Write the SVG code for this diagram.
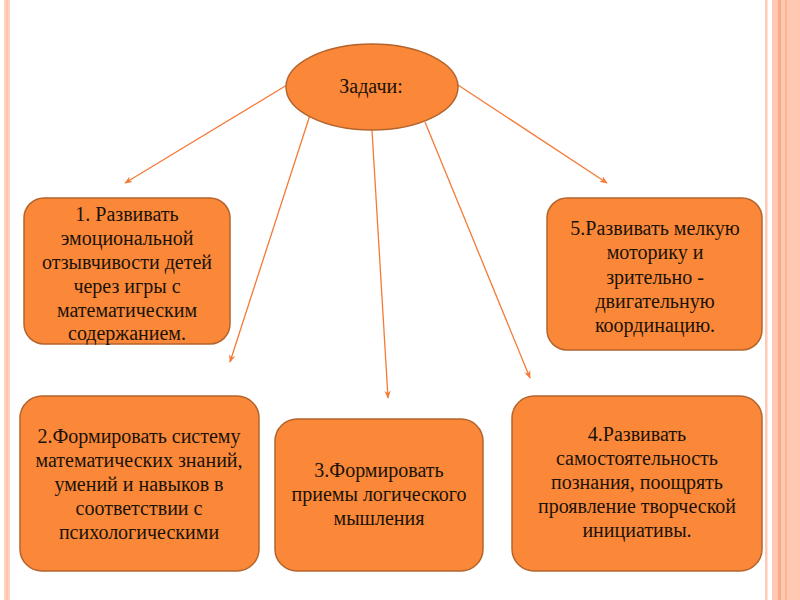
<svg xmlns="http://www.w3.org/2000/svg" width="800" height="600" viewBox="0 0 800 600">
<style>
.node{fill:#FA8838;stroke:#B4642C;stroke-width:1.5}
.t{font-family:"Liberation Serif","Times New Roman",serif;font-size:20px;fill:#1a1208;text-anchor:middle}
.c{stroke:#F47A36;stroke-width:1.3;fill:none;marker-end:url(#ah)}
</style>
<defs>
<marker id="ah" viewBox="0 0 10 10" refX="9" refY="5" markerWidth="8" markerHeight="8" markerUnits="userSpaceOnUse" orient="auto">
<path d="M0,1 L10,5 L0,9 L3,5 Z" fill="#F47A36"/>
</marker>
</defs>
<rect width="800" height="600" fill="#fff"/>
<g id="borders">
<rect x="4" y="0" width="6" height="600" fill="#FFD3C4"/>
<rect x="6" y="0" width="2" height="600" fill="#FFC4AE"/>
<rect x="765" y="0" width="2.5" height="600" fill="#FFC9B5"/>
<rect x="772" y="0" width="28" height="600" fill="#FFC8B3"/>
<rect x="778" y="0" width="3" height="600" fill="#F9A984"/>
<rect x="785" y="0" width="2" height="600" fill="#FBB697"/>
</g>
<g id="connectors">
<line class="c" x1="287" y1="85" x2="125" y2="183"/>
<line class="c" x1="310" y1="115" x2="230" y2="362"/>
<line class="c" x1="372" y1="130" x2="388" y2="398"/>
<line class="c" x1="425" y1="122" x2="530" y2="378"/>
<line class="c" x1="458" y1="85" x2="607" y2="183"/>
</g>
<g id="root">
<ellipse class="node" cx="372" cy="87" rx="86" ry="43"/>
<text class="t" x="371" y="93">Задачи:</text>
</g>
<g id="n1">
<rect class="node" x="24" y="198" width="206" height="146" rx="20"/>
<text class="t" x="127" y="221">1. Развивать</text>
<text class="t" x="127" y="245">эмоциональной</text>
<text class="t" x="127" y="269">отзывчивости детей</text>
<text class="t" x="127" y="293">через игры с</text>
<text class="t" x="127" y="317">математическим</text>
<text class="t" x="127" y="340">содержанием.</text>
</g>
<g id="n5">
<rect class="node" x="547" y="198" width="215" height="152" rx="20"/>
<text class="t" x="655" y="235">5.Развивать мелкую</text>
<text class="t" x="655" y="259">моторику и</text>
<text class="t" x="655" y="284">зрительно -</text>
<text class="t" x="655" y="308">двигательную</text>
<text class="t" x="655" y="332">координацию.</text>
</g>
<g id="n2">
<rect class="node" x="20" y="396" width="239" height="175" rx="22"/>
<text class="t" x="139" y="443">2.Формировать систему</text>
<text class="t" x="139" y="467">математических знаний,</text>
<text class="t" x="139" y="491">умений и навыков в</text>
<text class="t" x="139" y="515">соответствии с</text>
<text class="t" x="139" y="539">психологическими</text>
</g>
<g id="n3">
<rect class="node" x="275" y="419" width="208" height="152" rx="22"/>
<text class="t" x="379" y="477">3.Формировать</text>
<text class="t" x="379" y="501">приемы логического</text>
<text class="t" x="379" y="525">мышления</text>
</g>
<g id="n4">
<rect class="node" x="512" y="396" width="250" height="175" rx="22"/>
<text class="t" x="637" y="441">4.Развивать</text>
<text class="t" x="637" y="465">самостоятельность</text>
<text class="t" x="637" y="489">познания, поощрять</text>
<text class="t" x="637" y="513">проявление творческой</text>
<text class="t" x="637" y="537">инициативы.</text>
</g>
</svg>
